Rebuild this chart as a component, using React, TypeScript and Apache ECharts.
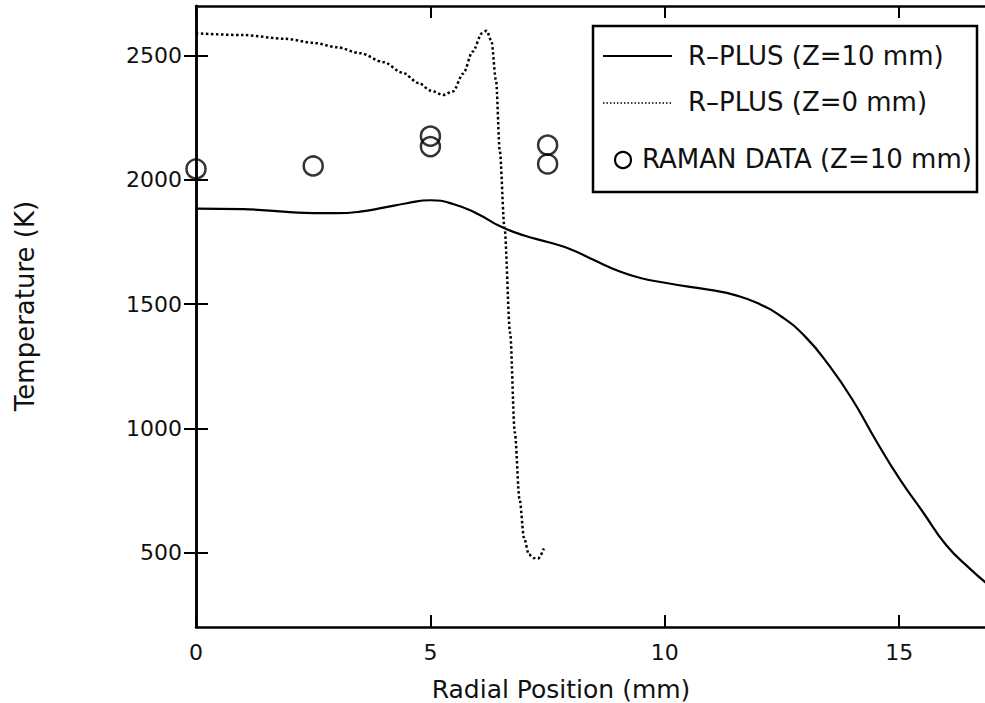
import React, { useEffect, useRef } from "react";
import * as echarts from "echarts";

const xTicks = [0, 5, 10, 15];
const yTicks = [500, 1000, 1500, 2000, 2500];

// R-PLUS (Z=10 mm) — solid line
const rplus10: [number, number][] = [
  [0, 1884], [1, 1882], [2, 1870], [2.5, 1866], [3, 1866], [3.5, 1872], [4, 1888],
  [4.5, 1906], [5, 1918], [5.5, 1902], [6, 1864], [6.5, 1812], [7, 1776], [7.5, 1750],
  [8, 1720], [8.5, 1676], [9, 1634], [9.5, 1604], [10, 1586], [10.5, 1570], [11, 1556],
  [11.5, 1536], [12, 1502], [12.5, 1448], [13, 1368], [13.5, 1254], [14, 1116],
  [14.5, 952], [15, 798], [15.5, 664], [16, 530], [16.5, 436], [16.9, 370],
];

// R-PLUS (Z=0 mm) — dotted line
const rplus0: [number, number][] = [
  [0, 2590], [1, 2583], [1.9, 2568], [2.5, 2552], [3, 2534], [3.5, 2510], [4, 2474],
  [4.4, 2432], [4.75, 2390], [5, 2360], [5.27, 2342], [5.48, 2356], [5.7, 2428],
  [5.9, 2516], [6.1, 2590], [6.2, 2600], [6.3, 2560], [6.4, 2400], [6.48, 2116],
  [6.58, 1808], [6.7, 1384], [6.8, 984], [6.9, 716], [7.0, 556], [7.1, 492],
  [7.2, 478], [7.3, 476], [7.42, 516],
];

// RAMAN DATA (Z=10 mm)
const raman: [number, number][] = [
  [0, 2044], [2.5, 2056], [5, 2176], [5, 2134], [7.5, 2140], [7.5, 2064],
];

const legendLabels = ["R\u2013PLUS (Z=10 mm)", "R\u2013PLUS (Z=0 mm)", "RAMAN DATA (Z=10 mm)"];
const xName = "Radial Position (mm)";
const yName = "Temperature (K)";

const FONT = "DejaVu Sans";
const INK = "#111";

export default function App() {
  const ref = useRef<HTMLDivElement>(null);
  useEffect(() => {
    if (!ref.current) return;
    const chart = echarts.init(ref.current, null, { renderer: "svg" });
    const axisLine = { show: true, lineStyle: { color: "#000", width: 2.5 } };
    const xTick = { show: true, inside: true, length: 12, customValues: xTicks, lineStyle: { color: "#000", width: 2 } };
    const yTick = { show: true, inside: true, length: 12, customValues: yTicks, lineStyle: { color: "#000", width: 2 } };
    const fmt = (v: number) => String(v);
    chart.setOption({
      animation: false,
      backgroundColor: "#fff",
      grid: { left: 196, top: 6, right: 7, bottom: 76 },
      xAxis: [
        {
          type: "value", min: 0, max: 17, position: "bottom",
          axisLine, axisTick: xTick,
          axisLabel: { customValues: xTicks, formatter: fmt, fontFamily: FONT, fontSize: 22, color: INK, margin: 14 },
          splitLine: { show: false },
        },
        {
          type: "value", min: 0, max: 17, position: "top",
          axisLine, axisTick: xTick,
          axisLabel: { show: false },
          splitLine: { show: false },
        },
      ],
      yAxis: [
        {
          type: "value", min: 200, max: 2700, position: "left",
          axisLine, axisTick: yTick,
          axisLabel: { customValues: yTicks, formatter: fmt, fontFamily: FONT, fontSize: 22, color: INK, margin: 14 },
          splitLine: { show: false },
        },
        {
          type: "value", min: 200, max: 2700, position: "right",
          axisLine, axisTick: yTick,
          axisLabel: { show: false },
          splitLine: { show: false },
        },
      ],
      series: [
        {
          name: legendLabels[0], type: "line", data: rplus10, showSymbol: false, smooth: 0.5,
          lineStyle: { color: "#000", width: 2.2 }, silent: true,
        },
        {
          name: legendLabels[1], type: "line", data: rplus0, showSymbol: false, smooth: 0.3,
          smoothMonotone: "x",
          lineStyle: { color: "#000", width: 2.5, type: [2.5, 2.5] }, silent: true,
        },
        {
          name: legendLabels[2], type: "scatter", data: raman, symbol: "circle", symbolSize: 19,
          itemStyle: { color: "rgba(0,0,0,0)", borderColor: "#000", borderWidth: 2.5 }, silent: true,
        },
      ],
      graphic: [
        {
          type: "text", x: 561, y: 689,
          style: { text: xName, fontFamily: FONT, fontSize: 25, fill: INK, textAlign: "center", textVerticalAlign: "middle" },
        },
        {
          type: "text", x: 25, y: 306, rotation: Math.PI / 2,
          style: { text: yName, fontFamily: FONT, fontSize: 26, fill: INK, textAlign: "center", textVerticalAlign: "middle" },
        },
        {
          type: "rect", shape: { x: 593, y: 26, width: 384, height: 166 }, z: 10,
          style: { fill: "#fff", stroke: "#000", lineWidth: 2.5 },
        },
        {
          type: "line", shape: { x1: 603, y1: 56, x2: 672, y2: 56 }, z: 11,
          style: { stroke: "#000", lineWidth: 2.2 },
        },
        {
          type: "text", x: 688, y: 56, z: 11,
          style: { text: legendLabels[0], fontFamily: FONT, fontSize: 26, fill: INK, textAlign: "left", textVerticalAlign: "middle" },
        },
        {
          type: "line", shape: { x1: 603, y1: 103, x2: 672, y2: 103 }, z: 11,
          style: { stroke: "#000", lineWidth: 1.5, lineDash: [1.5, 2] },
        },
        {
          type: "text", x: 688, y: 102, z: 11,
          style: { text: legendLabels[1], fontFamily: FONT, fontSize: 26, fill: INK, textAlign: "left", textVerticalAlign: "middle" },
        },
        {
          type: "circle", shape: { cx: 623, cy: 160, r: 8 }, z: 11,
          style: { fill: "none", stroke: "#000", lineWidth: 2.2 },
        },
        {
          type: "text", x: 642, y: 159, z: 11,
          style: { text: legendLabels[2], fontFamily: FONT, fontSize: 26, fill: INK, textAlign: "left", textVerticalAlign: "middle" },
        },
      ],
    });
    return () => chart.dispose();
  }, []);
  return (
    <div style={{ position: "absolute", left: 0, top: 0, width: 985, height: 703, overflow: "hidden", background: "#fff" }}>
      <div ref={ref} style={{ width: 1000, height: 703 }} />
    </div>
  );
}
